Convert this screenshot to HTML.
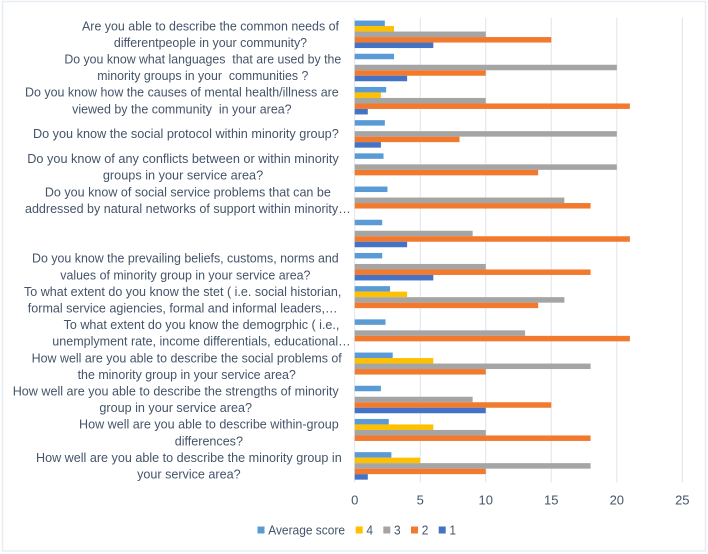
<!DOCTYPE html>
<html lang="en">
<head>
<meta charset="utf-8">
<title>Survey responses chart</title>
<style>
html,body{margin:0;padding:0;background:#fff;}
body{width:708px;height:554px;overflow:hidden;}
svg{display:block;filter:blur(0.35px);}
text{font-family:"Liberation Sans",sans-serif;fill:#44546a;}
</style>
</head>
<body>
<svg id="chart" width="708" height="554" viewBox="0 0 708 554" xmlns="http://www.w3.org/2000/svg">
  <rect x="2.5" y="1.5" width="703" height="549.5" fill="#fff" stroke="#e8edf3" stroke-width="1.5"/>
  <g id="grid"></g>
  <g id="bars"></g>
  <g id="labels"></g>
  <g id="ticks"></g>
  <g id="legend"></g>
</svg>
<script>
const categoryLines = [
  ["Are you able to describe the common needs of", "differentpeople in your community?"],
  ["Do you know what languages  that are used by the", "minority groups in your  communities ?"],
  ["Do you know how the causes of mental health/illness are", "viewed by the community  in your area?"],
  ["Do you know the social protocol within minority group?"],
  ["Do you know of any conflicts between or within minority", "groups in your service area?"],
  ["Do you know of social service problems that can be", "addressed by natural networks of support within minority…"],
  [],
  ["Do you know the prevailing beliefs, customs, norms and", "values of minority group in your service area?"],
  ["To what extent do you know the stet ( i.e. social historian,", "formal service agiencies, formal and informal leaders,…"],
  ["To what extent do you know the demogrphic ( i.e.,", "unemplyment rate, income differentials, educational…"],
  ["How well are you able to describe the social problems of", "the minority group in your service area?"],
  ["How well are you able to describe the strengths of minority", "group in your service area?"],
  ["How well are you able to describe within-group", "differences?"],
  ["How well are you able to describe the minority group in", "your service area?"]
];
const averageScore = [2.3, 3, 2.4, 2.3, 2.2, 2.5, 2.1, 2.1, 2.7, 2.35, 2.9, 2, 2.6, 2.8];
const score4 = [3, 0, 2, 0, 0, 0, 0, 0, 4, 0, 6, 0, 6, 5];
const score3 = [10, 20, 10, 20, 20, 16, 9, 10, 16, 13, 18, 9, 10, 18];
const score2 = [15, 10, 21, 8, 14, 18, 21, 18, 14, 21, 10, 15, 18, 10];
const score1 = [6, 4, 1, 2, 0, 0, 4, 6, 0, 0, 0, 10, 0, 1];
const tickValues = [0, 5, 10, 15, 20, 25];

const seriesOrder = [
  {name: "Average score", slug: "average-score", values: averageScore, color: "#5b9bd5"},
  {name: "4", slug: "score-4", values: score4, color: "#ffc000"},
  {name: "3", slug: "score-3", values: score3, color: "#a5a5a5"},
  {name: "2", slug: "score-2", values: score2, color: "#f27a2e"},
  {name: "1", slug: "score-1", values: score1, color: "#4472c4"}
];

/* Layout only: horizontal extent of each wrapped label block */
const labelLayoutEdges = [
  [82, 339], [64.3, 341.3], [25, 338.7], [33, 338.7], [27.3, 338.7], [25, 350.7], null,
  [32, 338.7], [24, 341.3], [52.3, 350.7], [31.7, 341.7], [12.7, 338.7], [79, 338.7], [36, 341.7]
];

const NS = "http://www.w3.org/2000/svg";
const plotLeft = 354.7, unit = 13.105, plotTop = 17.7, bandH = 33.2, barH = 5.5;
const xScale = function (v) { return plotLeft + v * unit; };
const bandCenter = function (i) { return plotTop + bandH * (i + 0.5); };
const plotBottom = plotTop + bandH * categoryLines.length;
const textFont = 13.2;

function make(tag, parent, props) {
  const el = document.createElementNS(NS, tag);
  Object.keys(props).forEach(function (k) { el.setAttribute(k, props[k]); });
  parent.appendChild(el);
  return el;
}

const gridG = document.getElementById("grid");
const ticksG = document.getElementById("ticks");
tickValues.forEach(function (t) {
  const line = make("line", gridG, {x1: xScale(t), x2: xScale(t), y1: plotTop, y2: plotBottom, stroke: "#dfe3ee", "stroke-width": 1});
  
  
  const label = make("text", ticksG, {x: xScale(t), y: 504.5, "text-anchor": "middle", "font-size": 13});
  
  
  label.textContent = t;
});

const barsG = document.getElementById("bars");
seriesOrder.forEach(function (s, si) {
  s.values.forEach(function (v, i) {
    if (!v) return;
    const bar = make("rect", barsG, {
      x: plotLeft,
      y: bandCenter(i) + (si - 2) * barH - barH / 2,
      width: xScale(v) - plotLeft,
      height: barH,
      fill: s.color
    });
    
    
  });
});

const labelsG = document.getElementById("labels");
categoryLines.forEach(function (lines, i) {
  if (!lines.length) return;
  const group = make("g", labelsG, {});
  
  
  const nodes = lines.map(function (txt, li) {
    const y = bandCenter(i) + (li - (lines.length - 1) / 2) * 16.6 + 4.3;
    const t = make("text", group, {y: y, "font-size": textFont, "text-anchor": "middle"});
    t.style.whiteSpace = "pre";
    t.textContent = txt;
    return t;
  });
  let widest = 0;
  nodes.forEach(function (n) { widest = Math.max(widest, n.getComputedTextLength()); });
  const edges = labelLayoutEdges[i];
  const squeeze = (edges[1] - edges[0]) / widest;
  const cx = (edges[0] + edges[1]) / 2;
  nodes.forEach(function (n) {
    n.setAttribute("transform", "translate(" + cx + ",0) scale(" + squeeze + ",1)");
  });
});

const legendG = document.getElementById("legend");
const legendSwatchX = [257.5, 355.7, 383.3, 411, 438.7];
seriesOrder.forEach(function (s, si) {
  const entry = make("g", legendG, {});
  
  
  make("rect", entry, {x: legendSwatchX[si], y: 526.5, width: 7, height: 7, fill: s.color});
  const t = make("text", entry, {y: 534.4, "font-size": 12.6, transform: "translate(" + (legendSwatchX[si] + 10.7) + ",0) scale(0.95,1)"});
  t.textContent = s.name;
});
</script>
</body>
</html>
